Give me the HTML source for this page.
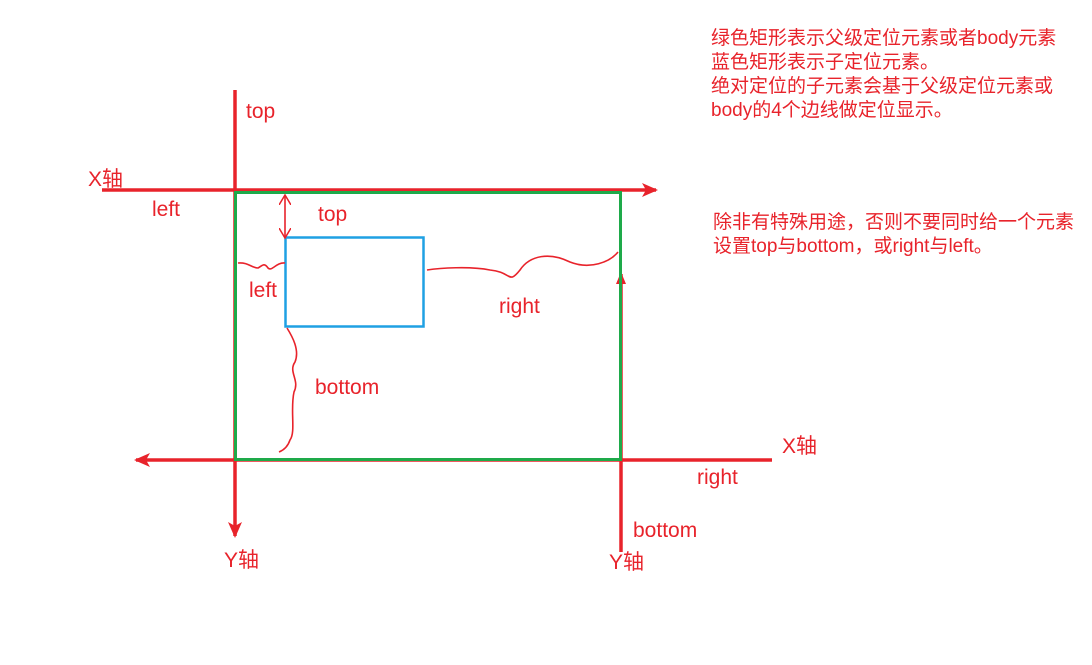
<!DOCTYPE html>
<html><head><meta charset="utf-8"><style>
html,body{margin:0;padding:0;background:#fff;}
svg{display:block;}
text{font-family:"Liberation Sans","Noto Sans CJK SC",sans-serif;fill:#e8232b;font-size:21px;}
</style></head><body>
<svg width="1092" height="665" viewBox="0 0 1092 665">
<defs>
<marker id="ah" markerWidth="12" markerHeight="12" refX="10" refY="6" orient="auto" markerUnits="userSpaceOnUse"><path d="M0,1 L12,6 L0,11 Z" fill="#e8232b"/></marker>
<marker id="ah2" markerWidth="16" markerHeight="14" refX="14" refY="7" orient="auto" markerUnits="userSpaceOnUse"><path d="M0,0 L16,7 L0,14 L4,7 Z" fill="#e8232b"/></marker>
<marker id="ahs" markerWidth="12" markerHeight="12" refX="10" refY="6" orient="auto" markerUnits="userSpaceOnUse"><path d="M0,0 L10,6 L0,12" fill="none" stroke="#e8232b" stroke-width="1.5"/></marker>
</defs>
<g stroke="#e8232b" stroke-width="3.5" fill="none">
<line x1="235" y1="90" x2="235" y2="536" marker-end="url(#ah2)"/>
<line x1="102" y1="190" x2="656" y2="190" marker-end="url(#ah2)"/>
<line x1="772" y1="460" x2="136" y2="460" marker-end="url(#ah2)"/>
<line x1="621" y1="552" x2="621" y2="274" marker-end="url(#ah)"/>
</g>
<rect x="235.5" y="192.5" width="385" height="267" fill="none" stroke="#1eaa4a" stroke-width="3"/>
<rect x="285.5" y="237.5" width="138" height="89" fill="none" stroke="#1fa0e3" stroke-width="2.5"/>
<g stroke="#e8232b" stroke-width="1.6" fill="none">
<line x1="285" y1="215" x2="285" y2="195" marker-end="url(#ahs)"/>
<line x1="285" y1="215" x2="285" y2="238" marker-end="url(#ahs)"/>
<path d="M238,263 C248,262 252,268 258,268 C262,266 264,262 268,268 C272,272 276,262 285,263"/>
<path d="M287,328 C292,336 300,350 295,362 C288,372 300,380 294,392 C290,410 296,432 290,440 C288,446 284,450 279,452"/>
<path d="M427,270 C440,268 470,266 490,270 C512,272 508,285 520,270 C530,255 550,252 570,262 C590,270 610,262 618,252"/>
</g>
<text x="246" y="118">top</text>
<text x="88" y="186">X轴</text>
<text x="152" y="216">left</text>
<text x="318" y="221">top</text>
<text x="249" y="297">left</text>
<text x="499" y="313">right</text>
<text x="315" y="394">bottom</text>
<text x="782" y="453">X轴</text>
<text x="697" y="484">right</text>
<text x="633" y="537">bottom</text>
<text x="224" y="567">Y轴</text>
<text x="609" y="569">Y轴</text>
<g>
<text x="711" y="44" style="font-size:19px">绿色矩形表示父级定位元素或者body元素</text>
<text x="711" y="68" style="font-size:19px">蓝色矩形表示子定位元素。</text>
<text x="711" y="92" style="font-size:19px">绝对定位的子元素会基于父级定位元素或</text>
<text x="711" y="116" style="font-size:19px">body的4个边线做定位显示。</text>
</g>
<g>
<text x="713" y="228" style="font-size:19px">除非有特殊用途，否则不要同时给一个元素</text>
<text x="713" y="252" style="font-size:19px">设置top与bottom，或right与left。</text>
</g>
</svg>
</body></html>
